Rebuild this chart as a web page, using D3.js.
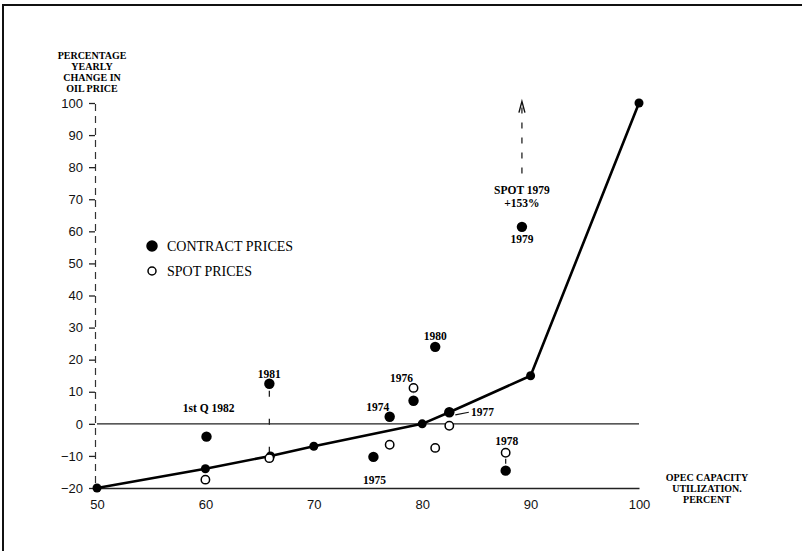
<!DOCTYPE html>
<html>
<head>
<meta charset="utf-8">
<script src="https://cdn.jsdelivr.net/npm/d3@7"></script>
<style>
  body { margin: 0; background: #fff; }
  svg { display: block; }
</style>
</head>
<body>
<div id="chart"></div>
<script>
// OPEC capacity utilization vs yearly oil price change
const xTicks = [50, 60, 70, 80, 90, 100];
const yTicks = [-20, -10, 0, 10, 20, 30, 40, 50, 60, 70, 80, 90, 100];

// the fitted curve (contract prices)
const curve = [
  { u: 50, p: -20 }, { u: 60, p: -14 }, { u: 66, p: -10 }, { u: 70, p: -7 },
  { u: 80, p: 0 }, { u: 82.5, p: 3.6 }, { u: 90, p: 15 }, { u: 100, p: 100 }
];

const contract = [
  { year: "1st Q 1982", u: 60.1, p: -4 },
  { year: "1981", u: 65.9, p: 12.5 },
  { year: "1974", u: 77, p: 2.2 },
  { year: "1975", u: 75.5, p: -10.3 },
  { year: "1976", u: 79.2, p: 7.2 },
  { year: "1977", u: 82.5, p: 3.6 },
  { year: "1978", u: 87.7, p: -14.6 },
  { year: "1979", u: 89.2, p: 61.4 },
  { year: "1980", u: 81.2, p: 24 }
];

const spot = [
  { year: "1st Q 1982", u: 60, p: -17.4 },
  { year: "1981", u: 65.9, p: -10.7 },
  { year: "1975", u: 77, p: -6.5 },
  { year: "1976", u: 79.2, p: 11.2 },
  { year: "1980", u: 81.2, p: -7.5 },
  { year: "1977", u: 82.5, p: -0.6 },
  { year: "1978", u: 87.7, p: -9 }
];

// years whose contract and spot marks are joined
const joined = ["1981", "1976", "1978"];

// year labels: [text, u, p, anchor]
const labels = [
  ["1981", 65.9, 15.5, "middle"],
  ["1st Q 1982", 60.3, 4.8, "middle"],
  ["1980", 81.2, 27.5, "middle"],
  ["1976", 78.1, 14.4, "middle"],
  ["1974", 75.9, 5.3, "middle"],
  ["1975", 75.6, -17.4, "middle"],
  ["1977", 84.5, 3.6, "start"],
  ["1978", 87.8, -5.2, "middle"],
  ["1979", 89.2, 57.7, "middle"]
];

const W = 802, H = 551;
const svg = d3.select("#chart").append("svg")
  .attr("width", W).attr("height", H);

const x = d3.scaleLinear().domain([50, 100]).range([97, 639]);
const y = d3.scaleLinear().domain([-20, 100]).range([488, 103]);

const serif = "'Liberation Serif', 'DejaVu Serif', serif";
const sans = "'Liberation Sans', Arial, sans-serif";

// frame (top and left edge of the page)
svg.append("path")
  .attr("d", `M3,${H} L3,5 L${W},5`)
  .attr("fill", "none").attr("stroke", "#111").attr("stroke-width", 2);

// zero line
svg.append("line")
  .attr("x1", x(50)).attr("x2", x(100))
  .attr("y1", y(0)).attr("y2", y(0))
  .attr("stroke", "#222").attr("stroke-width", 1.3);

// x axis
const xAxis = svg.append("g")
  .attr("transform", `translate(0,${y(-20)})`)
  .call(d3.axisBottom(x).tickValues(xTicks).tickSize(0).tickPadding(12));
xAxis.select(".domain").attr("stroke", "#222").attr("stroke-width", 1.3);
xAxis.selectAll("text").attr("font-family", sans).attr("font-size", 13).attr("fill", "#111");

// y axis
const yAxis = svg.append("g")
  .attr("transform", "translate(95,0)")
  .call(d3.axisLeft(y).tickValues(yTicks).tickSize(6).tickPadding(6)
    .tickFormat(d => d < 0 ? "\u2212" + Math.abs(d) : d));
yAxis.select(".domain").attr("stroke", "#333").attr("stroke-width", 1.2)
  .attr("stroke-dasharray", "7,5");
yAxis.selectAll(".tick line").attr("stroke", "#222").attr("stroke-width", 1.3);
yAxis.selectAll("text").attr("font-family", sans).attr("font-size", 13).attr("fill", "#111");

// axis titles
const yTitle = ["PERCENTAGE", "YEARLY", "CHANGE IN", "OIL PRICE"];
svg.selectAll(".ytitle").data(yTitle).join("text")
  .attr("class", "ytitle")
  .attr("font-family", serif).attr("font-weight", "bold").attr("font-size", 10)
  .attr("text-anchor", "middle")
  .attr("x", 92).attr("y", (d, i) => 59 + i * 11).text(d => d);

const xTitle = ["OPEC CAPACITY", "UTILIZATION.", "PERCENT"];
svg.selectAll(".xtitle").data(xTitle).join("text")
  .attr("class", "xtitle")
  .attr("font-family", serif).attr("font-weight", "bold").attr("font-size", 10)
  .attr("text-anchor", "middle")
  .attr("x", 707).attr("y", (d, i) => 481 + i * 11).text(d => d);

// connectors between contract and spot of the same year
const pairs = spot.filter(s => joined.includes(s.year))
  .map(s => [contract.find(c => c.year === s.year), s]);
svg.selectAll(".conn").data(pairs).join("line")
  .attr("class", "conn")
  .attr("x1", d => x(d[0].u)).attr("x2", d => x(d[1].u))
  .attr("y1", d => y(d[0].p) + (d[0].p > d[1].p ? 7 : -7))
  .attr("y2", d => y(d[1].p) + (d[0].p > d[1].p ? -6 : 6))
  .attr("stroke", "#222").attr("stroke-width", 1.3)
  .attr("stroke-dasharray", "6,22");

// curve
svg.append("path")
  .datum(curve)
  .attr("fill", "none").attr("stroke", "#000").attr("stroke-width", 2.6)
  .attr("stroke-linejoin", "round")
  .attr("d", d3.line().x(d => x(d.u)).y(d => y(d.p)));

svg.selectAll(".knot").data(curve).join("circle")
  .attr("class", "knot")
  .attr("cx", d => x(d.u)).attr("cy", d => y(d.p)).attr("r", 4.5)
  .attr("fill", "#000");

// contract points
svg.selectAll(".contract").data(contract).join("circle")
  .attr("class", "contract")
  .attr("cx", d => x(d.u)).attr("cy", d => y(d.p)).attr("r", 5.2)
  .attr("fill", "#000");

// spot points
svg.selectAll(".spot").data(spot).join("circle")
  .attr("class", "spot")
  .attr("cx", d => x(d.u)).attr("cy", d => y(d.p)).attr("r", 4.2)
  .attr("fill", "#fff").attr("stroke", "#000").attr("stroke-width", 1.5);

// spot 1979 is off the scale (+153%): dashed arrow pointing up
const spot1979 = { u: 89.2, p: 153 };
svg.append("line")
  .attr("x1", x(spot1979.u)).attr("x2", x(spot1979.u))
  .attr("y1", y(78)).attr("y2", y(99))
  .attr("stroke", "#222").attr("stroke-width", 1.3)
  .attr("stroke-dasharray", "6,9");
svg.append("path")
  .attr("d", `M${x(spot1979.u) - 3},${y(97)} L${x(spot1979.u)},${y(100.5)} L${x(spot1979.u) + 3},${y(97)}`)
  .attr("fill", "none").attr("stroke", "#111").attr("stroke-width", 1.4);
svg.selectAll(".spot79").data(["SPOT 1979", "+" + spot1979.p + "%"]).join("text")
  .attr("class", "spot79")
  .attr("font-family", serif).attr("font-weight", "bold").attr("font-size", 11.5)
  .attr("text-anchor", "middle")
  .attr("x", x(spot1979.u)).attr("y", (d, i) => y(73) + 4 + i * 13).text(d => d);

// year labels
svg.selectAll(".lbl").data(labels).join("text")
  .attr("class", "lbl")
  .attr("x", d => x(d[1])).attr("y", d => y(d[2]) + 4)
  .attr("text-anchor", d => d[3])
  .attr("font-family", serif).attr("font-weight", "bold").attr("font-size", 11.5)
  .text(d => d[0]);

// leader for 1977
svg.append("line")
  .attr("x1", x(82.5) + 6).attr("y1", y(2.8))
  .attr("x2", x(84.3)).attr("y2", y(3.6))
  .attr("stroke", "#111").attr("stroke-width", 1.2);

// legend
const legend = [
  { name: "CONTRACT PRICES", filled: true },
  { name: "SPOT PRICES", filled: false }
];
const lg = svg.append("g").attr("transform", "translate(152,246)");
const li = lg.selectAll("g").data(legend).join("g")
  .attr("transform", (d, i) => `translate(0,${i * 25})`);
li.append("circle")
  .attr("r", d => d.filled ? 5 : 4)
  .attr("fill", d => d.filled ? "#000" : "#fff")
  .attr("stroke", "#000").attr("stroke-width", 1.5);
li.append("text")
  .attr("x", 15).attr("y", 5)
  .attr("font-family", serif).attr("font-size", 14)
  .text(d => d.name);
</script>
</body>
</html>
